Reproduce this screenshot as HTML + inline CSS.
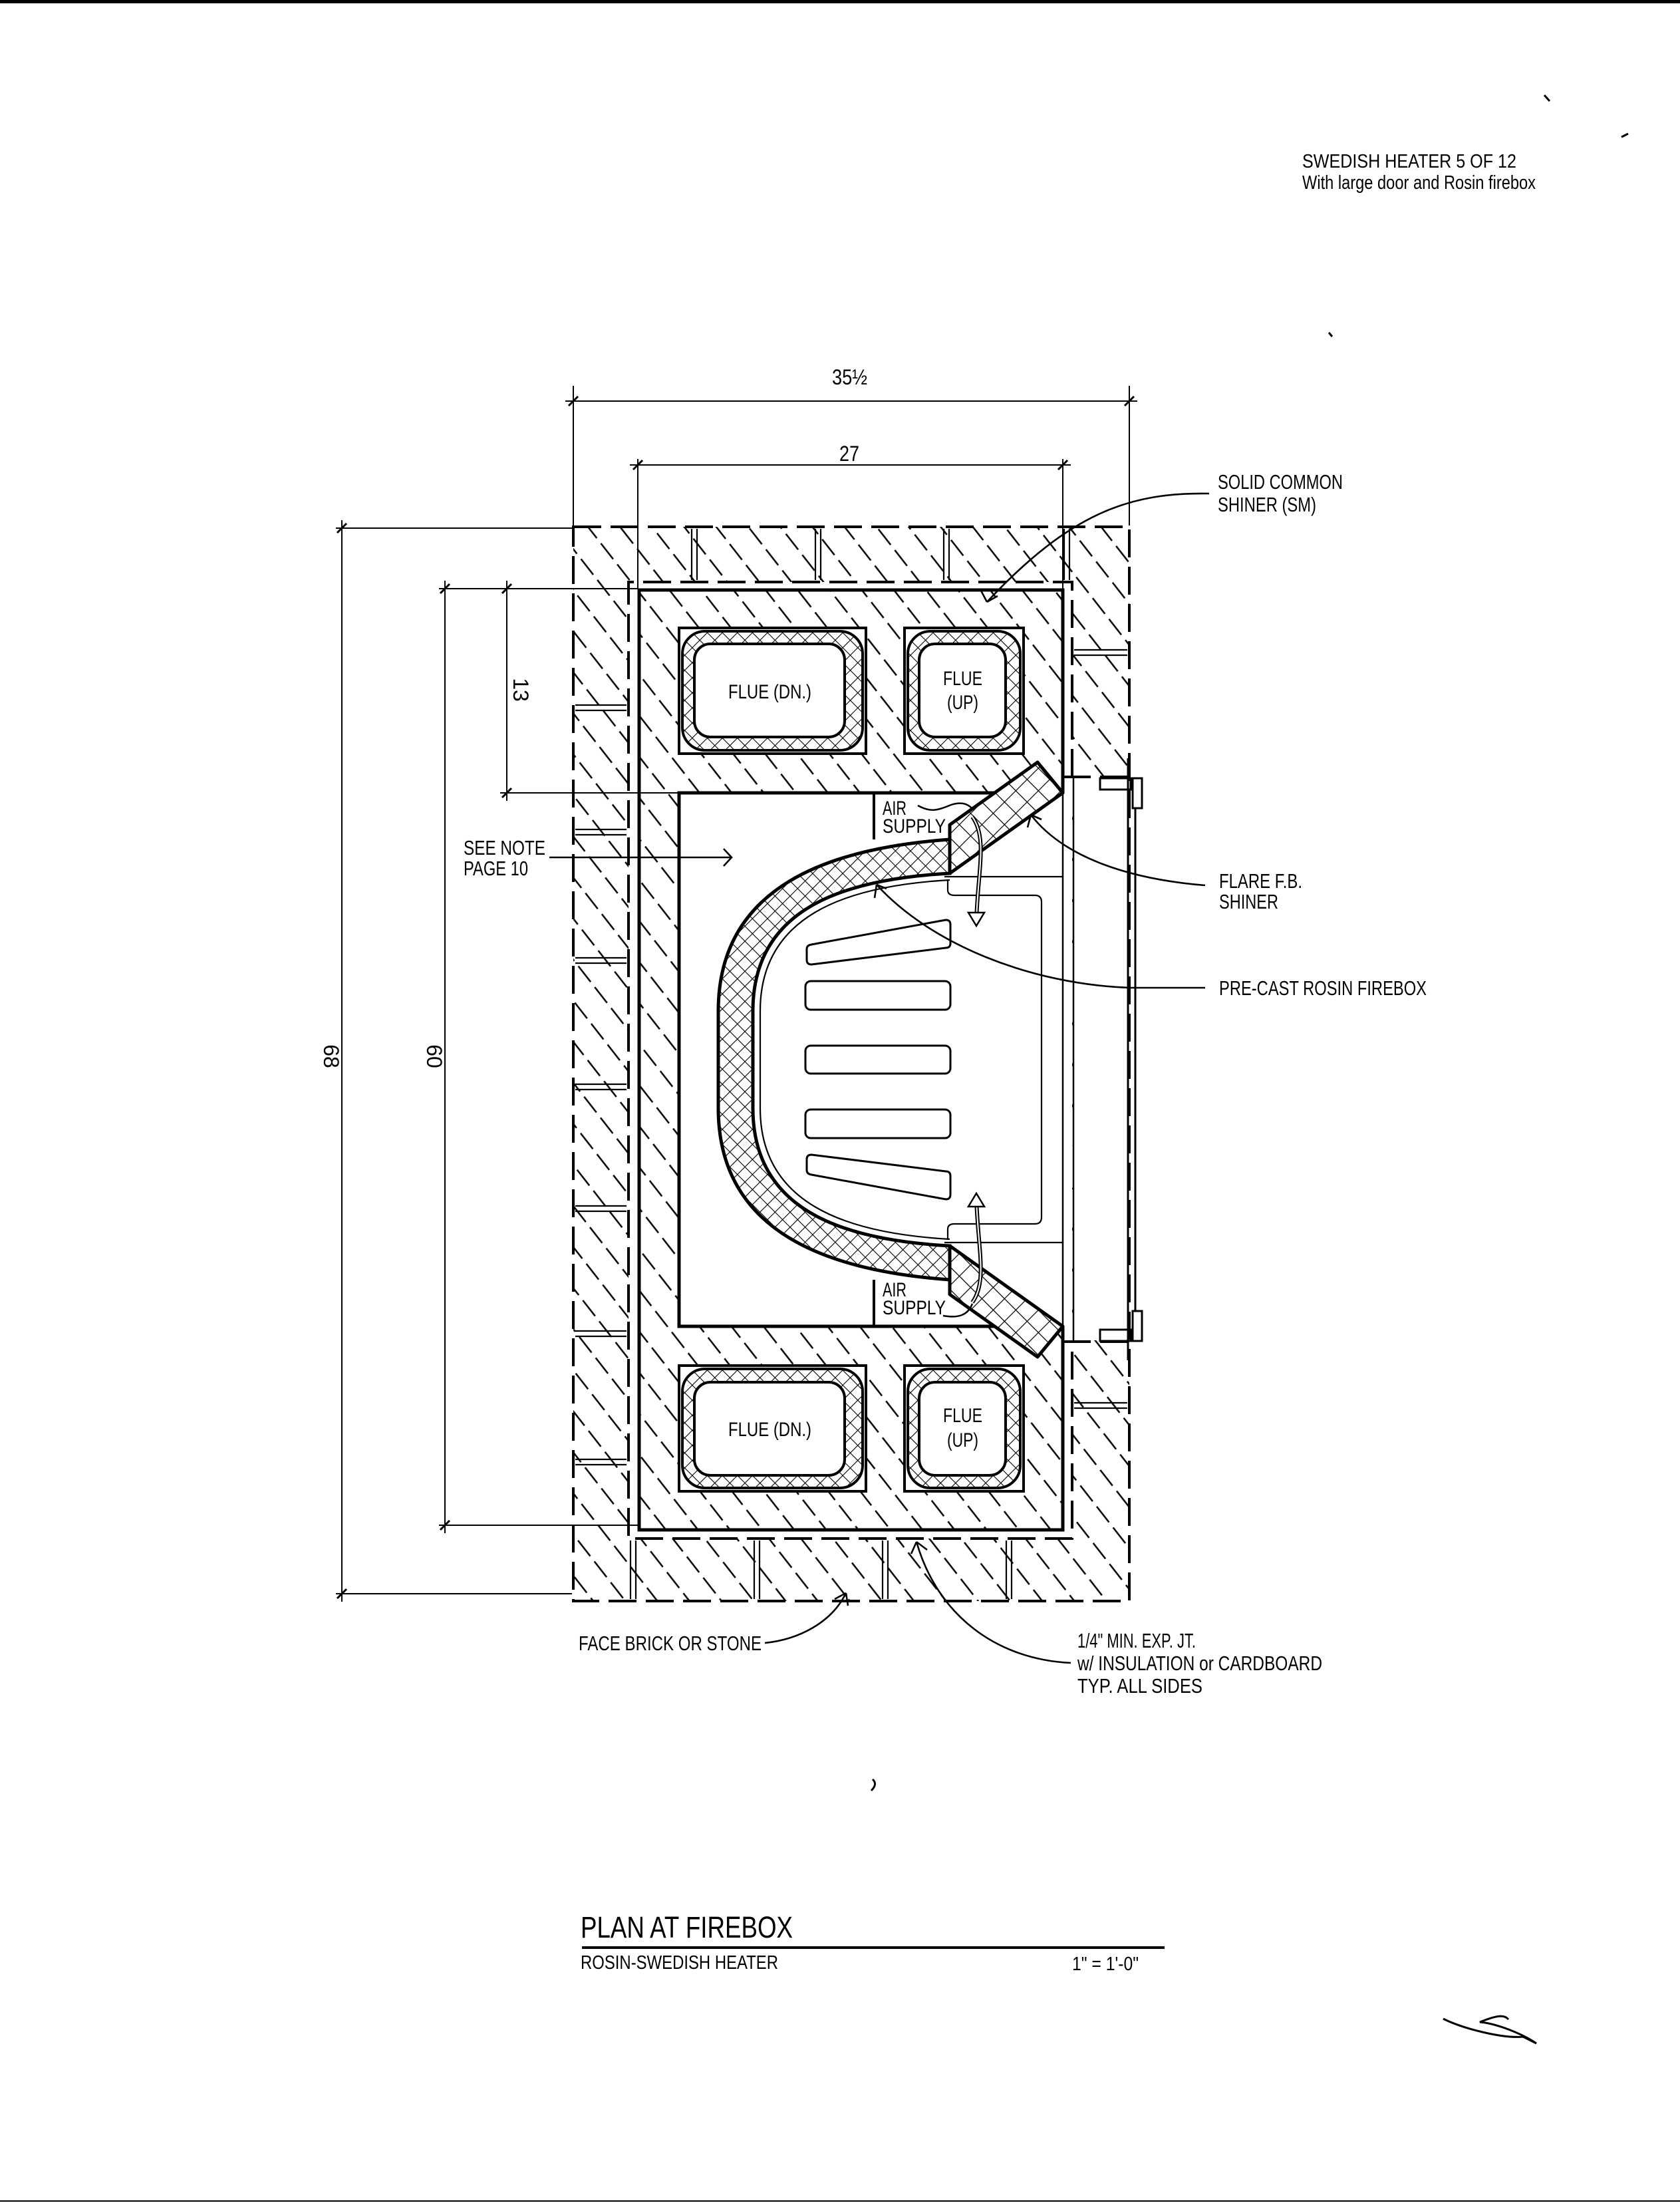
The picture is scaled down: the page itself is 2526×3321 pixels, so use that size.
<!DOCTYPE html>
<html><head><meta charset="utf-8"><style>
html,body{margin:0;padding:0;background:#fff}
svg{display:block}
text{font-family:"Liberation Sans Narrow","Liberation Sans",sans-serif;fill:#000}
</style></head><body>
<svg width="2526" height="3321" viewBox="0 0 2526 3321" xmlns="http://www.w3.org/2000/svg">
<defs>
<pattern id="h" width="40" height="38" patternUnits="userSpaceOnUse" patternTransform="rotate(52)">
<line x1="0" y1="19" x2="40" y2="19" stroke="#000" stroke-width="2.6" stroke-dasharray="30 10"/>
</pattern>
<pattern id="x" width="16" height="16" patternUnits="userSpaceOnUse" patternTransform="rotate(45)">
<rect width="16" height="16" fill="#fff"/>
<line x1="0" y1="0" x2="16" y2="0" stroke="#000" stroke-width="2.2"/>
<line x1="0" y1="0" x2="0" y2="16" stroke="#000" stroke-width="2.2"/>
</pattern>
<pattern id="x2" width="24" height="24" patternUnits="userSpaceOnUse" patternTransform="rotate(45)">
<rect width="24" height="24" fill="#fff"/>
<line x1="0" y1="0" x2="24" y2="0" stroke="#000" stroke-width="2.4"/>
<line x1="0" y1="0" x2="0" y2="24" stroke="#000" stroke-width="2.4"/>
</pattern>
</defs>
<rect width="2526" height="3321" fill="#fff"/>
<rect x="0" y="0" width="2526" height="5" fill="#000"/>
<line x1="0" y1="3309" x2="2526" y2="3309" stroke="#000" stroke-width="2"/>

<text x="1958" y="252" font-size="29" textLength="322" lengthAdjust="spacingAndGlyphs">SWEDISH HEATER  5 OF 12</text>
<text x="1958" y="284" font-size="29" textLength="351" lengthAdjust="spacingAndGlyphs">With large door and Rosin firebox</text>

<path d="M862 792H1698V2407H862Z M945 875V2313H1612V875Z" fill="url(#h)" fill-rule="evenodd"/>
<rect x="1614" y="1170" width="86" height="845" fill="#fff"/>
<rect x="961" y="887" width="637" height="1413" fill="url(#h)"/>
<rect x="1021" y="1192" width="577" height="802" fill="#fff"/>

<g fill="none" stroke="#000" stroke-width="4" stroke-dasharray="42 14">
<rect x="862" y="792" width="836" height="1615"/>
<path d="M1612 1168V875H945V2313H1612V2017"/>
<path d="M1598 1168H1700 M1598 2017H1700"/>
</g>
<g stroke="#000" stroke-width="2.2">
<path d="M1040 795V872M1048 795V872 M1226 795V872M1234 795V872 M1419 795V872M1427 795V872 M1600 795V872M1608 795V872"/>
<path d="M948 2316V2404M956 2316V2404 M1134 2316V2404M1142 2316V2404 M1327 2316V2404M1335 2316V2404 M1513 2316V2404M1521 2316V2404"/>
<path d="M865 1060H942M865 1068H942 M865 1247H942M865 1255H942 M865 1440H942M865 1448H942 M865 1630H942M865 1638H942 M865 1813H942M865 1821H942 M865 2001H942M865 2009H942 M865 2194H942M865 2202H942"/>
<path d="M1615 977H1695M1615 985H1695 M1615 2109H1695M1615 2117H1695"/>
</g>

<path d="M1598 1192V887H961V2300H1598V1994" fill="none" stroke="#000" stroke-width="5"/>
<line x1="1598" y1="1192" x2="1598" y2="1994" stroke="#000" stroke-width="2.5"/>
<line x1="1614" y1="1168" x2="1614" y2="2017" stroke="#000" stroke-width="2.5"/>
<path d="M1495 1192H1021V1994H1495" fill="none" stroke="#000" stroke-width="5"/>
<path d="M1314 1192V1262 M1314 1924V1994" stroke="#000" stroke-width="4"/>

<g fill="none" stroke="#000" stroke-width="2.2">
<path d="M1420 1318H1598 M1420 1868H1598"/>
<path d="M1425 1322V1338Q1425 1346 1435 1346H1556Q1566 1346 1566 1356V1830Q1566 1840 1556 1840H1435Q1425 1840 1425 1848V1864"/>
</g>

<g fill="#fff" stroke="#000" stroke-width="3">
<path d="M1220 1420L1422 1383Q1429 1383 1429 1390V1418Q1429 1425 1422 1425L1220 1450Q1213 1450 1213 1443V1427Q1213 1421 1220 1420Z"/>
<rect x="1211" y="1475" width="218" height="43" rx="8"/>
<rect x="1211" y="1572" width="218" height="42" rx="8"/>
<rect x="1211" y="1668" width="218" height="43" rx="8"/>
<path d="M1220 1766L1422 1803Q1429 1803 1429 1796V1768Q1429 1761 1422 1761L1220 1736Q1213 1736 1213 1743V1759Q1213 1765 1220 1766Z"/>
</g>

<path d="M1428 1262C1250 1275 1080 1330 1080 1520L1080 1666C1080 1856 1250 1911 1428 1924L1428 1873C1260 1864 1132 1816 1132 1666L1132 1520C1132 1370 1260 1322 1428 1313Z" fill="url(#x)" stroke="#000" stroke-width="5"/>
<path d="M1428 1323C1268 1332 1143 1378 1143 1520L1143 1666C1143 1808 1268 1854 1428 1863" fill="none" stroke="#000" stroke-width="2.2"/>
<path d="M1560 1146L1598 1192L1428 1313L1428 1240Z" fill="url(#x2)" stroke="#000" stroke-width="5" stroke-linejoin="round"/>
<path d="M1560 2040L1598 1994L1428 1873L1428 1946Z" fill="url(#x2)" stroke="#000" stroke-width="5" stroke-linejoin="round"/>

<g fill="none">
<path d="M1462 1228C1485 1260 1470 1310 1468 1385" stroke="#000" stroke-width="6"/>
<path d="M1462 1228C1485 1260 1470 1310 1468 1385" stroke="#fff" stroke-width="2"/>
<path d="M1456 1372L1468 1392L1480 1372Z" stroke="#000" stroke-width="2.5" fill="#fff"/>
<path d="M1462 1958C1485 1926 1470 1876 1468 1801" stroke="#000" stroke-width="6"/>
<path d="M1462 1958C1485 1926 1470 1876 1468 1801" stroke="#fff" stroke-width="2"/>
<path d="M1456 1814L1468 1794L1480 1814Z" stroke="#000" stroke-width="2.5" fill="#fff"/>
<path d="M1380 1211C1400 1222 1410 1218 1430 1210C1445 1205 1455 1208 1462 1216" stroke="#000" stroke-width="2.5"/>
<path d="M1418 1978C1440 1982 1455 1978 1462 1960" stroke="#000" stroke-width="2.5"/>
</g>
<g font-size="30">
<text x="1327" y="1225" textLength="36" lengthAdjust="spacingAndGlyphs">AIR</text>
<text x="1327" y="1252" textLength="95" lengthAdjust="spacingAndGlyphs">SUPPLY</text>
<text x="1327" y="1949" textLength="36" lengthAdjust="spacingAndGlyphs">AIR</text>
<text x="1327" y="1976" textLength="95" lengthAdjust="spacingAndGlyphs">SUPPLY</text>
</g>

<g stroke="#000" stroke-width="4">
<rect x="1021" y="944" width="281" height="189" fill="#fff"/>
<rect x="1026" y="949" width="271" height="179" rx="34" fill="url(#x)"/>
<rect x="1044" y="968" width="226" height="140" rx="24" fill="#fff"/>
<rect x="1360" y="944" width="179" height="189" fill="#fff"/>
<rect x="1365" y="949" width="169" height="179" rx="34" fill="url(#x)"/>
<rect x="1382" y="968" width="130" height="140" rx="24" fill="#fff"/>
<rect x="1021" y="2053" width="281" height="189" fill="#fff"/>
<rect x="1026" y="2058" width="271" height="179" rx="34" fill="url(#x)"/>
<rect x="1044" y="2078" width="226" height="140" rx="24" fill="#fff"/>
<rect x="1360" y="2053" width="179" height="189" fill="#fff"/>
<rect x="1365" y="2058" width="169" height="179" rx="34" fill="url(#x)"/>
<rect x="1382" y="2078" width="130" height="140" rx="24" fill="#fff"/>
</g>
<g font-size="30">
<text x="1095" y="1050" textLength="125" lengthAdjust="spacingAndGlyphs">FLUE (DN.)</text>
<text x="1418" y="1030" textLength="59" lengthAdjust="spacingAndGlyphs">FLUE</text>
<text x="1424" y="1066" textLength="47" lengthAdjust="spacingAndGlyphs">(UP)</text>
<text x="1095" y="2159" textLength="125" lengthAdjust="spacingAndGlyphs">FLUE (DN.)</text>
<text x="1418" y="2138" textLength="59" lengthAdjust="spacingAndGlyphs">FLUE</text>
<text x="1424" y="2175" textLength="47" lengthAdjust="spacingAndGlyphs">(UP)</text>
</g>

<g fill="none" stroke="#000" stroke-width="3">
<path d="M1696 1140V2045 M1707 1215V1972"/>
<path d="M1654 1170H1700V1187H1654Z"/>
<path d="M1703 1170H1717V1215H1703Z"/>
<path d="M1654 2016H1700V1999H1654Z"/>
<path d="M1703 2016H1717V1971H1703Z"/>
</g>

<g stroke="#000" stroke-width="2" fill="none">
<path d="M862 580V790 M1698 580V790 M850 603H1710"/>
<path d="M959 690V885 M1598 690V885 M947 699H1610"/>
<path d="M505 794H860 M505 2396H860 M514 782V2408"/>
<path d="M660 885H960 M660 2293H960 M669 873V2305"/>
<path d="M752 885H790 M752 1192H1020 M762 873V1204"/>
</g>
<g stroke="#000" stroke-width="3">
<path d="M855 610L869 596 M1691 610L1705 596 M952 706L966 692 M1591 706L1605 692"/>
<path d="M507 801L521 787 M507 2403L521 2389 M662 892L676 878 M662 2300L676 2286 M755 892L769 878 M755 1199L769 1185"/>
</g>
<text x="1251" y="578" font-size="32" textLength="53" lengthAdjust="spacingAndGlyphs">35½</text>
<text x="1262" y="693" font-size="32" textLength="30" lengthAdjust="spacingAndGlyphs">27</text>
<text transform="translate(487,1588) rotate(90)" font-size="32" text-anchor="middle">68</text>
<text transform="translate(642,1588) rotate(90)" font-size="32" text-anchor="middle">60</text>
<text transform="translate(772,1037) rotate(90)" font-size="32" text-anchor="middle">13</text>

<g fill="none" stroke="#000" stroke-width="2.6">
<path d="M1818 742C1700 740 1610 770 1484 905"/>
<path d="M1484 905L1475 888 M1484 905L1500 896"/>
<path d="M1812 1331C1700 1322 1600 1290 1550 1225"/>
<path d="M1550 1225L1545 1244 M1550 1225L1566 1232"/>
<path d="M1812 1485H1700C1550 1480 1400 1420 1318 1330"/>
<path d="M1318 1330L1315 1350 M1318 1330L1333 1336"/>
<path d="M826 1289H1100 M1088 1276L1100 1289L1088 1302"/>
<path d="M1150 2470C1200 2465 1250 2440 1272 2395 M1272 2395L1255 2404 M1272 2395L1275 2414"/>
<path d="M1610 2500C1500 2495 1410 2430 1378 2318 M1378 2318L1370 2336 M1378 2318L1394 2330"/>
</g>
<g font-size="31">
<text x="1831" y="735" textLength="188" lengthAdjust="spacingAndGlyphs">SOLID COMMON</text>
<text x="1831" y="769" textLength="148" lengthAdjust="spacingAndGlyphs">SHINER (SM)</text>
<text x="1833" y="1335" textLength="125" lengthAdjust="spacingAndGlyphs">FLARE F.B.</text>
<text x="1833" y="1366" textLength="89" lengthAdjust="spacingAndGlyphs">SHINER</text>
<text x="1833" y="1496" textLength="312" lengthAdjust="spacingAndGlyphs">PRE-CAST ROSIN FIREBOX</text>
<text x="697" y="1285" textLength="123" lengthAdjust="spacingAndGlyphs">SEE NOTE</text>
<text x="697" y="1316" textLength="97" lengthAdjust="spacingAndGlyphs">PAGE 10</text>
<text x="870" y="2481" textLength="275" lengthAdjust="spacingAndGlyphs">FACE BRICK OR STONE</text>
<text x="1620" y="2477" textLength="178" lengthAdjust="spacingAndGlyphs">1/4" MIN. EXP. JT.</text>
<text x="1620" y="2511" textLength="368" lengthAdjust="spacingAndGlyphs">w/ INSULATION or CARDBOARD</text>
<text x="1620" y="2545" textLength="188" lengthAdjust="spacingAndGlyphs">TYP. ALL SIDES</text>
</g>

<text x="873" y="2913" font-size="45" textLength="319" lengthAdjust="spacingAndGlyphs">PLAN AT FIREBOX</text>
<rect x="875" y="2926" width="876" height="4" fill="#000"/>
<text x="873" y="2960" font-size="29" textLength="297" lengthAdjust="spacingAndGlyphs">ROSIN-SWEDISH HEATER</text>
<text x="1612" y="2962" font-size="29" textLength="100" lengthAdjust="spacingAndGlyphs">1" = 1'-0"</text>

<g fill="none" stroke="#000" stroke-width="3">
<path d="M2322 143L2330 152 M2438 206L2448 201 M1998 500L2003 506 M1312 2675Q1320 2682 1310 2692"/>
<path d="M2170 3035C2200 3050 2260 3065 2290 3062L2310 3072C2290 3058 2250 3042 2225 3040C2250 3030 2262 3028 2268 3036"/>
</g>
</svg>
</body></html>
